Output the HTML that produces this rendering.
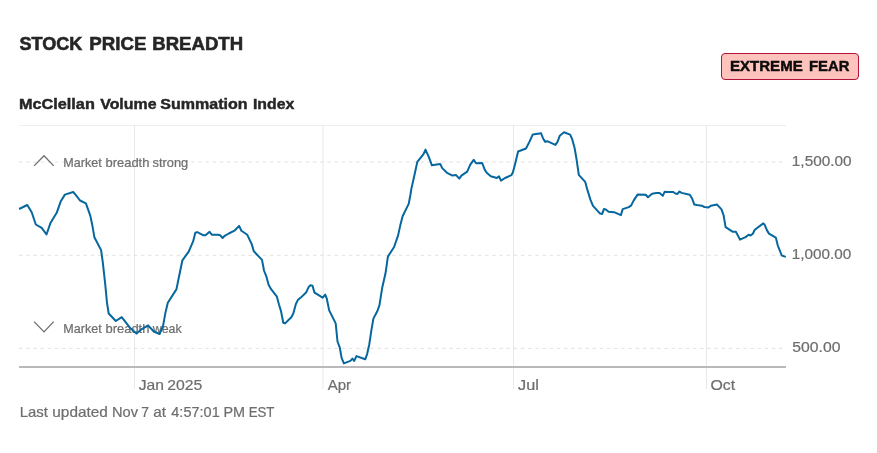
<!DOCTYPE html>
<html><head><meta charset="utf-8">
<style>
html,body{margin:0;padding:0;background:#fff;}
body{width:877px;height:453px;position:relative;overflow:hidden;font-family:"Liberation Sans",sans-serif;}
#badge{position:absolute;left:721px;top:53px;width:136px;height:25px;border:1px solid #b1133a;background:#ffc3bd;border-radius:4px;}
svg{position:absolute;left:0;top:0;will-change:transform;}
svg text{font-family:"Liberation Sans",sans-serif;white-space:pre;}
</style></head><body>
<div id="badge"></div>
<svg width="877" height="453" viewBox="0 0 877 453">
<line x1="19" y1="125.5" x2="786" y2="125.5" stroke="#eeeeee" stroke-width="1"/>
<g stroke="#e8e8e8" stroke-width="1" fill="none">
<line x1="134.5" y1="125" x2="134.5" y2="389"/>
<line x1="323" y1="125" x2="323" y2="389"/>
<line x1="513.5" y1="125" x2="513.5" y2="389"/>
<line x1="706.5" y1="125" x2="706.5" y2="389"/>
</g>
<g stroke="#e2e2e2" stroke-width="1" fill="none" stroke-dasharray="3.5 3.67">
<line x1="19" y1="162" x2="783" y2="162"/>
<line x1="19" y1="255.3" x2="783" y2="255.3"/>
<line x1="19" y1="348.4" x2="783" y2="348.4"/>
</g>
<line x1="19" y1="367" x2="786" y2="367" stroke="#b9b9b9" stroke-width="2"/>
<text x="19.42" y="49.6" font-size="18.5" font-weight="bold" stroke="#262626" stroke-width="0.6" fill="#262626" textLength="62.8" lengthAdjust="spacingAndGlyphs">STOCK</text>
<text x="89.29" y="49.6" font-size="18.5" font-weight="bold" stroke="#262626" stroke-width="0.6" fill="#262626" textLength="57.16" lengthAdjust="spacingAndGlyphs">PRICE</text>
<text x="152.29" y="49.6" font-size="18.5" font-weight="bold" stroke="#262626" stroke-width="0.6" fill="#262626" textLength="90.85" lengthAdjust="spacingAndGlyphs">BREADTH</text>
<text x="18.92" y="108.5" font-size="15.1" font-weight="bold" stroke="#262626" stroke-width="0.45" fill="#262626" textLength="75.93" lengthAdjust="spacingAndGlyphs">McClellan</text>
<text x="100.19" y="108.5" font-size="15.1" font-weight="bold" stroke="#262626" stroke-width="0.45" fill="#262626" textLength="56.35" lengthAdjust="spacingAndGlyphs">Volume</text>
<text x="160.37" y="108.5" font-size="15.1" font-weight="bold" stroke="#262626" stroke-width="0.45" fill="#262626" textLength="87.3" lengthAdjust="spacingAndGlyphs">Summation</text>
<text x="252.95" y="108.5" font-size="15.1" font-weight="bold" stroke="#262626" stroke-width="0.45" fill="#262626" textLength="41.29" lengthAdjust="spacingAndGlyphs">Index</text>
<text x="730.0" y="71.2" font-size="15.1" font-weight="bold" stroke="#0c0c0c" stroke-width="0.45" fill="#0c0c0c" textLength="72.69" lengthAdjust="spacingAndGlyphs">EXTREME</text>
<text x="809.02" y="71.2" font-size="15.1" font-weight="bold" stroke="#0c0c0c" stroke-width="0.45" fill="#0c0c0c" textLength="40.38" lengthAdjust="spacingAndGlyphs">FEAR</text>
<text x="791.83" y="166.1" font-size="14.4" stroke="#6e6e6e" stroke-width="0.22" fill="#6e6e6e" textLength="59.76" lengthAdjust="spacingAndGlyphs">1,500.00</text>
<text x="791.83" y="259.0" font-size="14.4" stroke="#6e6e6e" stroke-width="0.22" fill="#6e6e6e" textLength="59.45" lengthAdjust="spacingAndGlyphs">1,000.00</text>
<text x="792.34" y="352.0" font-size="14.4" stroke="#6e6e6e" stroke-width="0.22" fill="#6e6e6e" textLength="48.15" lengthAdjust="spacingAndGlyphs">500.00</text>
<text x="138.78" y="389.7" font-size="14.2" stroke="#6e6e6e" stroke-width="0.22" fill="#6e6e6e" textLength="25.21" lengthAdjust="spacingAndGlyphs">Jan</text>
<text x="167.22" y="389.7" font-size="14.2" stroke="#6e6e6e" stroke-width="0.22" fill="#6e6e6e" textLength="35.03" lengthAdjust="spacingAndGlyphs">2025</text>
<text x="327.8" y="389.7" font-size="14.2" stroke="#6e6e6e" stroke-width="0.22" fill="#6e6e6e" textLength="23.31" lengthAdjust="spacingAndGlyphs">Apr</text>
<text x="518.07" y="389.7" font-size="14.2" stroke="#6e6e6e" stroke-width="0.22" fill="#6e6e6e" textLength="20.82" lengthAdjust="spacingAndGlyphs">Jul</text>
<text x="710.52" y="389.7" font-size="14.2" stroke="#6e6e6e" stroke-width="0.22" fill="#6e6e6e" textLength="24.68" lengthAdjust="spacingAndGlyphs">Oct</text>
<text x="19.66" y="416.8" font-size="14.4" stroke="#6e6e6e" stroke-width="0.22" fill="#6e6e6e" textLength="28.16" lengthAdjust="spacingAndGlyphs">Last</text>
<text x="52.34" y="416.8" font-size="14.4" stroke="#6e6e6e" stroke-width="0.22" fill="#6e6e6e" textLength="55.47" lengthAdjust="spacingAndGlyphs">updated</text>
<text x="111.98" y="416.8" font-size="14.4" stroke="#6e6e6e" stroke-width="0.22" fill="#6e6e6e" textLength="26.03" lengthAdjust="spacingAndGlyphs">Nov</text>
<text x="141.22" y="416.8" font-size="14.4" stroke="#6e6e6e" stroke-width="0.22" fill="#6e6e6e" textLength="7.77" lengthAdjust="spacingAndGlyphs">7</text>
<text x="153.36" y="416.8" font-size="14.4" stroke="#6e6e6e" stroke-width="0.22" fill="#6e6e6e" textLength="12.75" lengthAdjust="spacingAndGlyphs">at</text>
<text x="171.3" y="416.8" font-size="14.4" stroke="#6e6e6e" stroke-width="0.22" fill="#6e6e6e" textLength="48.45" lengthAdjust="spacingAndGlyphs">4:57:01</text>
<text x="223.5" y="416.8" font-size="14.4" stroke="#6e6e6e" stroke-width="0.22" fill="#6e6e6e" textLength="21.6" lengthAdjust="spacingAndGlyphs">PM</text>
<text x="248.7" y="416.8" font-size="14.4" stroke="#6e6e6e" stroke-width="0.22" fill="#6e6e6e" textLength="25.79" lengthAdjust="spacingAndGlyphs">EST</text>
<text x="63.29" y="166.7" font-size="12.4" stroke="#6e6e6e" stroke-width="0.22" fill="#6e6e6e" textLength="38.41" lengthAdjust="spacingAndGlyphs">Market</text>
<text x="105.57" y="166.7" font-size="12.4" stroke="#6e6e6e" stroke-width="0.22" fill="#6e6e6e" textLength="43.83" lengthAdjust="spacingAndGlyphs">breadth</text>
<text x="152.49" y="166.7" font-size="12.4" stroke="#6e6e6e" stroke-width="0.22" fill="#6e6e6e" textLength="35.71" lengthAdjust="spacingAndGlyphs">strong</text>
<text x="63.29" y="332.9" font-size="12.4" stroke="#6e6e6e" stroke-width="0.22" fill="#6e6e6e" textLength="38.41" lengthAdjust="spacingAndGlyphs">Market</text>
<text x="105.57" y="332.9" font-size="12.4" stroke="#6e6e6e" stroke-width="0.22" fill="#6e6e6e" textLength="43.83" lengthAdjust="spacingAndGlyphs">breadth</text>
<text x="152.8" y="332.9" font-size="12.4" stroke="#6e6e6e" stroke-width="0.22" fill="#6e6e6e" textLength="28.85" lengthAdjust="spacingAndGlyphs">weak</text>
<path d="M34.1,165.9 L44,155.7 L53.7,165.9" fill="none" stroke="#6e6e6e" stroke-width="1.3"/>
<path d="M34.1,321.6 L44,331.9 L53.7,321.6" fill="none" stroke="#6e6e6e" stroke-width="1.3"/>
<polyline fill="none" stroke="#06679f" stroke-width="2" stroke-linejoin="round" stroke-linecap="butt" points="19.1,209.0 27.3,205.0 31.7,212.2 35.8,224.5 41.7,227.9 46.5,234.5 50.6,222.7 56.7,212.8 60.8,201.2 64.9,194.6 73.2,192.0 75.9,195.1 80.0,200.5 85.9,203.3 90.3,215.6 92.3,225.2 94.4,237.2 101.1,250.1 102.8,262.4 105.3,285 107.0,302.8 108.7,313.5 115.8,321.0 121.7,317.2 129.9,327.7 136.5,333.6 142.2,328.8 148.1,325.4 153.8,331.5 159.6,334.0 163.0,326.1 165.5,312.4 167.8,302.8 176.4,289.4 179.4,274.7 182.4,260.3 188.7,251.6 193.2,241.2 195.3,232.8 197.3,232.1 203.5,235.3 205.5,235.3 209.6,231.8 212.0,234.8 217.8,234.8 220.3,235.3 222.6,238.0 224.7,235.8 228.8,233.5 234.5,230.7 239.1,225.9 241.4,230.7 247.3,234.8 251.8,244.4 253.8,251.3 262.0,259.9 264.0,270.5 266.5,276.9 268.7,285.1 271.1,289.2 276.9,296.7 278.9,304.2 281.0,311.1 283.3,322.7 285.1,323.4 291.3,317.2 293.3,313.5 295.8,304.2 297.8,300.1 300.8,297.6 306.3,292.2 308.6,287.1 310.4,285.3 312.5,285.7 314.5,292.6 322.7,297.6 325.2,294.6 326.8,298.7 329.2,310.4 335.7,323.4 337.5,341.5 339.8,347.6 341.6,357.9 343.9,363.4 350.4,360.9 352.4,358.6 354.2,360.9 356.5,356.1 365.2,359.3 367.2,353.8 369.3,344.2 371.3,330.8 373.4,318.6 377.4,311 379.4,305.4 382.1,288.3 385.5,273.3 387.9,256.6 394.1,247.0 398.1,235.4 400.5,224.4 402.6,216.2 408.7,203.9 410.4,195 411.4,188.6 414.8,173.5 417.3,161.9 423.5,154.1 425.5,149.6 428.9,157.1 431.9,165.3 440.2,163.9 442.2,168.1 447.0,172.8 452.5,175.6 455.9,174.9 459.3,178.6 461.4,175.6 467.2,171.7 470.3,164.6 473.7,159.8 476.0,163.3 482.2,163.0 484.6,169.4 486.7,172.8 490.8,176.3 496.9,178.0 499.0,176.3 501.0,180.6 505.0,178.0 511.5,175.2 513.0,172.0 515.1,164.0 518.1,151.5 526.0,148.5 529.4,141.9 532.8,134.4 541.1,133.3 543.1,138.5 545.2,141.9 547.2,141.2 555.4,144.9 557.5,141.9 559.8,135.7 564.0,132.3 570.1,134.6 572.2,139.2 574.6,148.0 576.6,159.7 578.8,174.8 585.2,181.8 587.1,188.9 590.5,199.9 593.0,205.8 600.1,213.6 602.2,213.9 603.9,209.1 605.8,209.5 608.6,211.8 614.1,212.2 620.9,215.2 622.7,209.1 628.8,207.1 631.2,205.4 633.6,200.6 637.7,194.4 645.7,194.8 648.0,197.2 652.1,193.7 656.2,193.1 659.6,193.1 662.8,195.8 664.7,191.7 667.4,192.1 673.3,192.0 675.4,193.5 677.4,193.9 679.5,191.5 681.5,192.9 689.8,194.8 692.1,198.5 694.2,204.4 696.9,205.0 701.7,205.7 704.4,207.0 708.5,207.4 710.9,205.7 717.1,204.6 721.5,209.4 723.6,215.3 725.6,227.2 732.5,231.7 735.9,231.7 740.0,239.6 745.5,237.1 748.7,234.8 750.6,235.5 752.8,233.8 754.8,229.7 763.3,223.4 764.6,224.7 767.0,230.4 769.0,233.6 775.8,237.6 777.8,245.6 781.8,255.5 785.8,256.9"/>
</svg>
</body></html>
